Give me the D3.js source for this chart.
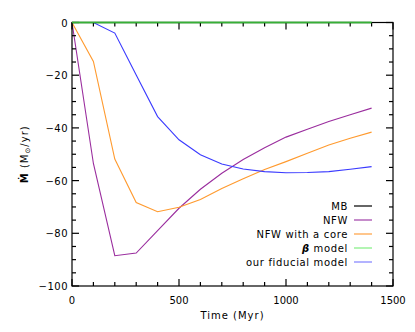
<!DOCTYPE html>
<html>
<head>
<meta charset="utf-8">
<script src="https://cdn.jsdelivr.net/npm/d3@7"></script>
<style>
  body { margin: 0; background: #fff; }
  svg { display: block; font-family: "DejaVu Sans", sans-serif; }
</style>
</head>
<body>
<svg id="chart" width="415" height="332"></svg>
<script>
// time steps (Myr)
const times = [0, 100, 200, 300, 400, 500, 600, 700, 800, 900, 1000, 1100, 1200, 1300, 1400];

// mass flow rate for each model (Msun/yr)
const mbValues = [0, 0, 0, 0, 0, 0, 0, 0, 0, 0, 0, 0, 0, 0, 0];
const nfwValues = [0, -53.5, -88.5, -87.5, -79, -70.5, -63.3, -57.2, -52, -47.5, -43.5, -40.5, -37.6, -35, -32.5];
const coreValues = [0, -14.8, -51.8, -68.3, -71.8, -70.1, -67.2, -63, -59.3, -55.8, -52.8, -49.6, -46.5, -43.9, -41.6];
const betaValues = [0, 0, 0, 0, 0, 0, 0, 0, 0, 0, 0, 0, 0, 0, 0];
const fiducialValues = [0, 0, -4, -19.9, -35.7, -44.5, -50.2, -53.7, -55.6, -56.6, -57, -56.9, -56.6, -55.7, -54.7];

const seriesNames = ["MB", "NFW", "NFW with a core", "\u03b2 model", "our fiducial model"];
const seriesColors = ["#000000", "#9a2d9e", "#ff9a2e", "#36b036", "#3a3aff"];
const legendColors = ["#000000", "#a040a8", "#ffa040", "#80ee80", "#8080ff"];

const xTicks = [0, 500, 1000, 1500];
const yTicks = [0, -20, -40, -60, -80, -100];

const svg = d3.select("#chart");
const plotLeft = 72, plotRight = 393, plotTop = 22.5, plotBottom = 286;

const x = d3.scaleLinear().domain([0, 1500]).range([plotLeft, plotRight]);
const y = d3.scaleLinear().domain([-100, 0]).range([plotBottom, plotTop]);

// data lines
const allSeries = [mbValues, nfwValues, coreValues, betaValues, fiducialValues];
const line = d3.line()
    .x((d, i) => x(times[i]))
    .y(d => y(d));

allSeries.forEach((vals, k) => {
    svg.append("path")
        .datum(vals)
        .attr("d", line)
        .attr("fill", "none")
        .attr("stroke", seriesColors[k])
        .attr("stroke-width", k === 3 ? 1.4 : 1.1);
});

// frame and ticks (inward, IDL style)
const axisColor = "#000";
const frame = svg.append("g");
frame.append("rect")
    .attr("x", plotLeft).attr("y", plotTop)
    .attr("width", plotRight - plotLeft).attr("height", plotBottom - plotTop)
    .attr("fill", "none").attr("stroke", axisColor).attr("stroke-width", 1.2);

d3.range(0, 1501, 100).forEach(t => {
    const len = t % 500 === 0 ? 7 : 4;
    frame.append("line").attr("x1", x(t)).attr("x2", x(t))
        .attr("y1", plotBottom).attr("y2", plotBottom - len)
        .attr("stroke", axisColor).attr("stroke-width", 1.2);
    frame.append("line").attr("x1", x(t)).attr("x2", x(t))
        .attr("y1", plotTop).attr("y2", plotTop + len)
        .attr("stroke", axisColor).attr("stroke-width", 1.2);
});
d3.range(-100, 1, 5).forEach(v => {
    const len = v % 20 === 0 ? 7 : 4;
    frame.append("line").attr("x1", plotLeft).attr("x2", plotLeft + len)
        .attr("y1", y(v)).attr("y2", y(v))
        .attr("stroke", axisColor).attr("stroke-width", 1.2);
    frame.append("line").attr("x1", plotRight).attr("x2", plotRight - len)
        .attr("y1", y(v)).attr("y2", y(v))
        .attr("stroke", axisColor).attr("stroke-width", 1.2);
});

// redraw the green line over the top frame, as in the original
svg.append("path")
    .datum(betaValues)
    .attr("d", line)
    .attr("fill", "none")
    .attr("stroke", seriesColors[3])
    .attr("stroke-width", 1.4);

// tick labels
const fmt = v => v < 0 ? "\u2212" + Math.abs(v) : String(v);
svg.selectAll("text.xtick")
    .data(xTicks)
    .enter().append("text")
    .attr("class", "xtick")
    .attr("x", d => x(d))
    .attr("y", plotBottom + 18)
    .attr("text-anchor", "middle")
    .style("font-size", "10px")
    .text(d => d);

svg.selectAll("text.ytick")
    .data(yTicks)
    .enter().append("text")
    .attr("class", "ytick")
    .attr("x", plotLeft - 4)
    .attr("y", d => y(d) + 4)
    .attr("text-anchor", "end")
    .style("font-size", "10px")
    .style("letter-spacing", "0.5px")
    .text(d => fmt(d));

// axis titles
svg.append("text")
    .attr("x", (plotLeft + plotRight) / 2)
    .attr("y", 319)
    .attr("text-anchor", "middle")
    .style("font-size", "10px")
    .style("letter-spacing", "1px")
    .text("Time (Myr)");

const yTitle = svg.append("text")
    .attr("transform", `translate(28, ${(plotTop + plotBottom) / 2}) rotate(-90)`)
    .attr("text-anchor", "middle")
    .style("font-size", "10px")
    .style("letter-spacing", "1px");
yTitle.append("tspan").style("font-weight", "bold").text("\u1e40");
yTitle.append("tspan").text(" (M");
yTitle.append("tspan").style("font-size", "7px").attr("dy", 2).text("\u2299");
yTitle.append("tspan").attr("dy", -2).text("/yr)");

// legend
const legend = svg.append("g");
seriesNames.forEach((name, k) => {
    const ly = 206 + k * 14;
    const t = legend.append("text")
        .attr("x", 348)
        .attr("y", ly + 4)
        .attr("text-anchor", "end")
        .style("font-size", "10px")
        .style("letter-spacing", "0.65px");
    if (k === 3) {
        t.append("tspan").style("font-weight", "bold").style("font-style", "italic").text("\u03b2");
        t.append("tspan").text(" model");
    } else {
        t.text(name);
    }
    legend.append("line")
        .attr("x1", 354).attr("x2", 372)
        .attr("y1", ly).attr("y2", ly)
        .attr("stroke", legendColors[k])
        .attr("stroke-width", 1.2);
});
</script>
</body>
</html>
